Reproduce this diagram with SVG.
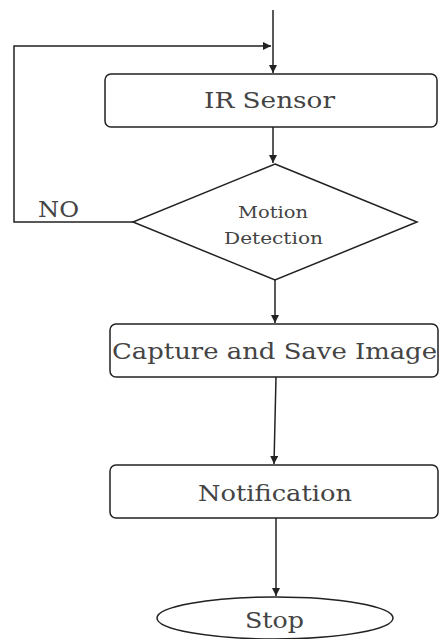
<svg xmlns="http://www.w3.org/2000/svg" width="439" height="639" viewBox="0 0 439 639">
<style>
.box{fill:#fff;stroke:#222;stroke-width:1.5}
.ln{fill:none;stroke:#222;stroke-width:1.5}
.t{font-family:"DejaVu Serif","Liberation Serif",serif;fill:#444;text-anchor:middle}
</style>
<defs>
<marker id="ah" viewBox="0 0 10 10" refX="10" refY="5" markerWidth="8" markerHeight="8" markerUnits="userSpaceOnUse" orient="auto">
<path d="M0,0L10,5L0,10z" fill="#222"/>
</marker>
</defs>
<g id="connectors">
<path class="ln" d="M273,10V73" marker-end="url(#ah)"/>
<path class="ln" d="M133,222H14V46H271" marker-end="url(#ah)"/>
<path class="ln" d="M273,127V163" marker-end="url(#ah)"/>
<path class="ln" d="M275,280V323" marker-end="url(#ah)"/>
<path class="ln" d="M276,377L274,464" marker-end="url(#ah)"/>
<path class="ln" d="M276,518V596" marker-end="url(#ah)"/>
</g>
<g id="ir">
<rect class="box" x="105" y="74" width="332" height="53" rx="6"/>
<text class="t" x="269.5" y="108" font-size="23" textLength="131" lengthAdjust="spacingAndGlyphs">IR Sensor</text>
</g>
<g id="motion">
<path class="box" d="M275,164L417,222L275,280L133,222Z"/>
<text class="t" x="273" y="218" font-size="17" textLength="70" lengthAdjust="spacingAndGlyphs">Motion</text>
<text class="t" x="273.5" y="244" font-size="17" textLength="99" lengthAdjust="spacingAndGlyphs">Detection</text>
</g>
<g id="no">
<text class="t" x="58.5" y="217" font-size="23" textLength="41" lengthAdjust="spacingAndGlyphs">NO</text>
</g>
<g id="capture">
<rect class="box" x="110" y="324" width="328" height="53" rx="6"/>
<text class="t" x="274.5" y="359" font-size="23" textLength="325" lengthAdjust="spacingAndGlyphs">Capture and Save Image</text>
</g>
<g id="notify">
<rect class="box" x="110" y="465" width="328" height="53" rx="6"/>
<text class="t" x="275" y="501" font-size="23" textLength="154" lengthAdjust="spacingAndGlyphs">Notification</text>
</g>
<g id="stop">
<ellipse class="box" cx="275" cy="618" rx="118" ry="21"/>
<text class="t" x="274.5" y="628" font-size="23" textLength="59" lengthAdjust="spacingAndGlyphs">Stop</text>
</g>
</svg>
